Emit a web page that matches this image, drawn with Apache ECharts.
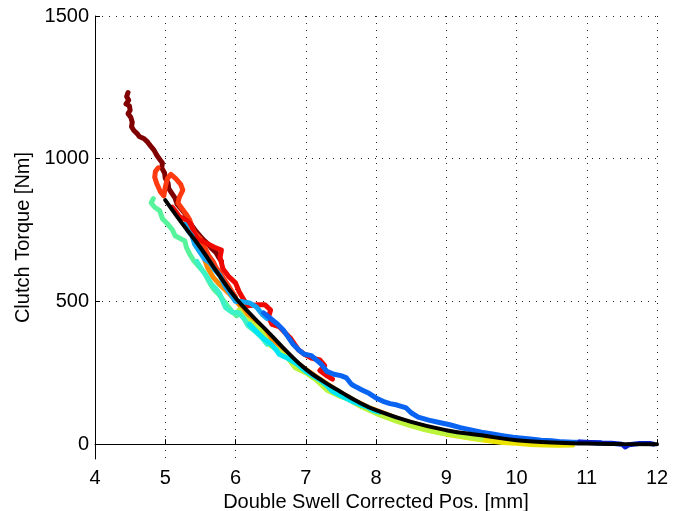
<!DOCTYPE html>
<html>
<head>
<meta charset="utf-8">
<script src="https://cdn.jsdelivr.net/npm/echarts@6/dist/echarts.min.js"></script>
<style>html,body{margin:0;padding:0;background:#fff;}#c{width:688px;height:511px;}</style>
</head>
<body>
<div id="c"></div>
<script>
// ---- data ----
const xTicks = [4, 5, 6, 7, 8, 9, 10, 11, 12];
const yTicks = [0, 500, 1000, 1500];

const traceDarkRed = [[4.47,1232],[4.45,1218],[4.48,1205],[4.44,1192],[4.49,1185],[4.50,1170],[4.47,1158],[4.51,1145],[4.53,1128],[4.52,1112],[4.55,1100],[4.60,1088],[4.63,1078],[4.70,1070],[4.75,1058],[4.79,1045],[4.84,1030],[4.88,1012],[4.92,998],[4.96,985],[4.95,968],[4.99,950],[5.00,932],[5.04,915],[5.05,895],[5.09,880],[5.14,862],[5.17,840],[5.22,826],[5.28,808],[5.32,792],[5.35,775],[5.40,758],[5.44,745],[5.50,728],[5.56,712],[5.62,698],[5.66,686],[5.72,672],[5.76,655],[5.80,640]];
const traceOrangeRed = [[4.90,968],[4.86,955],[4.85,935],[4.88,912],[4.93,885],[4.98,870],[5.00,900],[5.03,930],[5.08,945],[5.15,930],[5.22,910],[5.25,890],[5.20,865],[5.18,845],[5.24,825],[5.30,805],[5.35,785],[5.38,760],[5.42,740],[5.50,720],[5.55,700],[5.58,680],[5.62,660],[5.68,640],[5.72,620],[5.78,600],[5.83,580],[5.90,555],[5.95,535],[6.00,515]];
const traceRed = [[5.10,830],[5.16,812],[5.20,798],[5.30,785],[5.37,770],[5.40,745],[5.46,718],[5.52,712],[5.58,705],[5.70,690],[5.80,680],[5.78,655],[5.82,615],[5.90,588],[6.00,565],[6.05,535],[6.12,505],[6.18,485],[6.30,488],[6.42,488],[6.50,470],[6.47,445],[6.52,420],[6.62,412],[6.70,392],[6.78,372],[6.84,350],[6.90,330],[6.98,315],[7.08,302],[7.20,295],[7.27,275],[7.20,258],[7.30,240],[7.38,228]];
const traceGreen = [[4.83,860],[4.80,845],[4.85,830],[4.92,818],[4.96,790],[5.02,775],[5.10,752],[5.14,730],[5.20,722],[5.28,712],[5.30,690],[5.35,665],[5.40,645],[5.48,622],[5.56,600],[5.60,580],[5.64,562],[5.70,540],[5.76,525],[5.84,500],[5.90,480],[5.96,462],[6.02,450]];
const traceAqua = [[5.45,640],[5.52,612],[5.60,585],[5.66,560],[5.72,545],[5.78,525],[5.82,500],[5.86,478],[5.95,462],[6.05,460],[6.12,440],[6.18,415],[6.28,395],[6.38,372],[6.45,350]];
const traceCyan = [[6.20,420],[6.30,395],[6.40,370],[6.50,352],[6.58,330],[6.62,315],[6.75,300],[6.88,280],[7.00,255],[7.10,240],[7.20,225],[7.30,205],[7.38,185],[7.48,172],[7.58,160],[7.68,148],[7.78,138],[7.88,130],[7.96,118],[8.05,112]];
const traceYellowGreen = [[6.05,470],[6.12,445],[6.20,430],[6.35,400],[6.50,345],[6.60,330],[6.75,300],[6.85,268],[7.00,250],[7.15,225],[7.30,190],[7.45,172],[7.60,158],[7.80,130],[8.00,108],[8.10,98],[8.30,80],[8.50,64],[8.70,50],[8.90,40],[9.10,34],[9.30,24],[9.50,18]];
const traceYellow = [[8.40,80],[8.60,62],[8.80,46],[9.00,35],[9.20,27],[9.40,19],[9.60,12],[9.80,6],[10.00,3],[10.20,-1],[10.40,-3],[10.60,-4],[10.80,-3]];
const traceOrange = [[5.30,770],[5.45,715],[5.50,690],[5.60,620],[5.68,585],[5.76,563],[5.90,530],[6.05,490],[6.20,440],[6.35,400],[6.50,370],[6.63,345],[6.80,300],[7.00,262],[7.20,228],[7.34,205],[7.50,180],[7.70,152],[7.90,128],[8.05,114],[8.20,100],[8.40,82],[8.60,68],[8.76,56],[8.90,46],[9.10,40],[9.30,32],[9.50,24],[9.80,12],[10.00,8],[10.20,2],[10.50,0],[10.70,1]];
const traceLightBlue = [[5.28,770],[5.33,745],[5.38,730],[5.42,700],[5.50,670],[5.56,648],[5.64,635],[5.70,612],[5.78,590],[5.85,555],[5.92,530],[6.00,500],[6.08,500],[6.20,495],[6.30,480],[6.38,455],[6.45,440]];
const traceBlue = [[6.40,460],[6.50,440],[6.60,420],[6.68,400],[6.75,375],[6.82,350],[6.90,330],[6.98,315],[7.08,310],[7.15,295],[7.22,280],[7.30,255],[7.40,245],[7.50,240],[7.58,232],[7.65,210],[7.72,200],[7.80,190],[7.90,178],[8.00,162],[8.10,150],[8.20,142],[8.30,137],[8.43,127],[8.50,110],[8.60,95],[8.75,84],[8.90,76],[9.05,68],[9.20,58],[9.35,50],[9.50,42],[9.66,36],[9.80,30],[9.95,24],[10.05,22],[10.20,18],[10.35,14],[10.50,12],[10.65,8],[10.80,7],[11.00,6],[11.20,5]];
const traceDarkBlue = [[10.90,8],[11.05,6],[11.20,4],[11.35,3],[11.50,0],[11.55,-10],[11.60,-2],[11.75,2],[11.90,2],[11.95,0]];
const fitCurve = [[5.00,855],[5.25,770],[5.50,689],[5.75,598],[6.00,513],[6.25,446],[6.50,384],[6.75,320],[7.00,263],[7.25,220],[7.50,183],[7.75,148],[8.00,119],[8.50,78],[9.00,49],[9.50,31],[10.00,14],[10.50,6],[11.00,2],[11.50,0.5],[12.00,0]];

const traces = [
  ['orange', traceOrange, '#ff8a00'],
  ['yellow', traceYellow, '#ece400'],
  ['yellowgreen', traceYellowGreen, '#bcf43c'],
  ['green', traceGreen, '#58f49c'],
  ['aqua', traceAqua, '#3cf2c6'],
  ['cyan', traceCyan, '#00e6f4'],
  ['darkred', traceDarkRed, '#800000'],
  ['orangered', traceOrangeRed, '#ff3a10'],
  ['red', traceRed, '#ee0800'],
  ['lightblue', traceLightBlue, '#12a6f2'],
  ['blue', traceBlue, '#0a64f2'],
  ['darkblue', traceDarkBlue, '#0a1ed0']
];

const FONT = 'Liberation Sans, Arial, Helvetica, sans-serif';
const gridDot = { color: '#222', width: 1, type: [1, 6] };

const series = traces.map(t => ({
  name: t[0], type: 'line', data: t[1], showSymbol: false, symbol: 'none',
  lineStyle: { color: t[2], width: 5, cap: 'round', join: 'round' },
  z: 2, silent: true
}));
series.push({
  name: 'fit', type: 'line', data: fitCurve, smooth: true, showSymbol: false, symbol: 'none',
  lineStyle: { color: '#000', width: 4, cap: 'round' }, z: 5, silent: true
});

const chart = echarts.init(document.getElementById('c'), null, { renderer: 'canvas' });
chart.setOption({
  animation: false,
  backgroundColor: '#fff',
  grid: { left: 95, right: 31, top: 16, bottom: 52, outerBoundsMode: 'none', containLabel: false },
  xAxis: {
    type: 'value', min: 4, max: 12, interval: 1,
    name: 'Double Swell Corrected Pos. [mm]', nameLocation: 'middle', nameGap: 26,
    nameTextStyle: { fontFamily: FONT, fontSize: 20, color: '#000' },
    axisLine: { show: true, lineStyle: { color: '#000', width: 1 } },
    axisTick: { show: true, inside: true, length: 5, lineStyle: { color: '#000' } },
    axisLabel: { fontFamily: FONT, fontSize: 20, color: '#000', margin: 9,
                 formatter: v => xTicks.includes(v) ? String(v) : '' },
    splitLine: { show: true, lineStyle: gridDot }
  },
  yAxis: {
    type: 'value', min: -52, max: 1500,
    name: 'Clutch Torque [Nm]', nameLocation: 'middle', nameGap: 51,
    nameTextStyle: { fontFamily: FONT, fontSize: 20, color: '#000' },
    axisLine: { show: true, lineStyle: { color: '#000', width: 1 } },
    axisTick: { show: true, inside: true, length: 5, customValues: yTicks, lineStyle: { color: '#000' } },
    axisLabel: { fontFamily: FONT, fontSize: 20, color: '#000', margin: 6, customValues: yTicks,
                 formatter: v => String(v) },
    splitLine: { show: true, lineStyle: gridDot }
  },
  series: series
});
</script>
</body>
</html>
